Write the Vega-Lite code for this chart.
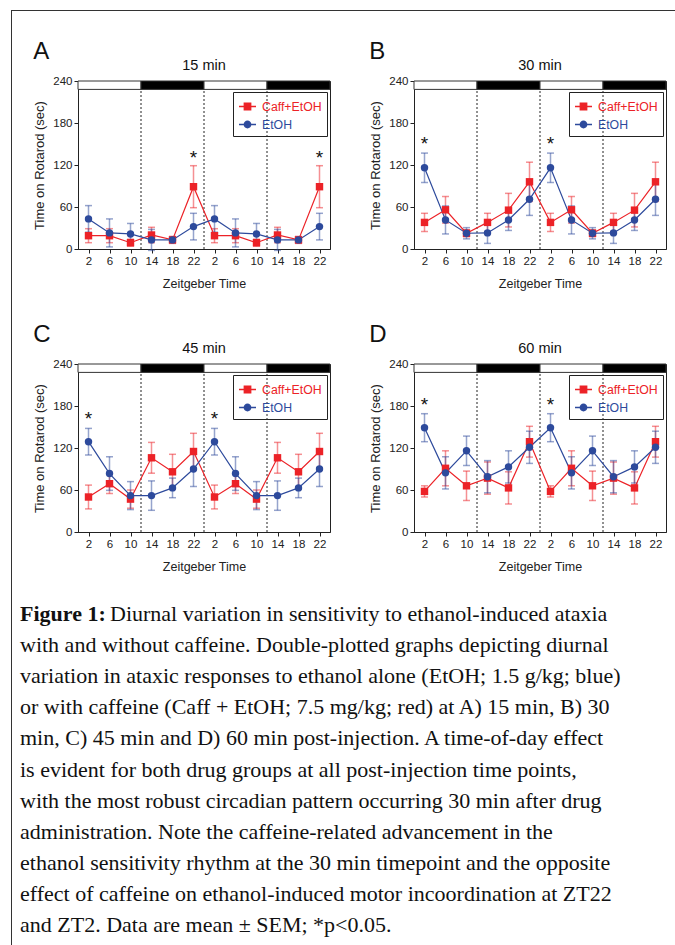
{
"$schema": "https://vega.github.io/schema/vega-lite/v6.json",
"padding": {"left": 11, "top": 10, "right": 0, "bottom": 0},
"background": "white",
"datasets": {
"pts": [
{"panel":"A","group":"Caff+EtOH","hour":2,"mean":19,"sem":10},{"panel":"A","group":"Caff+EtOH","hour":6,"mean":19,"sem":10},{"panel":"A","group":"Caff+EtOH","hour":10,"mean":9,"sem":5},{"panel":"A","group":"Caff+EtOH","hour":14,"mean":20,"sem":11},{"panel":"A","group":"Caff+EtOH","hour":18,"mean":13,"sem":5},{"panel":"A","group":"Caff+EtOH","hour":22,"mean":89,"sem":30},
{"panel":"A","group":"Caff+EtOH","hour":26,"mean":19,"sem":10},{"panel":"A","group":"Caff+EtOH","hour":30,"mean":19,"sem":10},{"panel":"A","group":"Caff+EtOH","hour":34,"mean":9,"sem":5},{"panel":"A","group":"Caff+EtOH","hour":38,"mean":20,"sem":11},{"panel":"A","group":"Caff+EtOH","hour":42,"mean":13,"sem":5},{"panel":"A","group":"Caff+EtOH","hour":46,"mean":89,"sem":30},
{"panel":"A","group":"EtOH","hour":2,"mean":43,"sem":19},{"panel":"A","group":"EtOH","hour":6,"mean":23,"sem":20},{"panel":"A","group":"EtOH","hour":10,"mean":21.5,"sem":15},{"panel":"A","group":"EtOH","hour":14,"mean":13,"sem":15},{"panel":"A","group":"EtOH","hour":18,"mean":13,"sem":4},{"panel":"A","group":"EtOH","hour":22,"mean":32,"sem":19},
{"panel":"A","group":"EtOH","hour":26,"mean":43,"sem":19},{"panel":"A","group":"EtOH","hour":30,"mean":23,"sem":20},{"panel":"A","group":"EtOH","hour":34,"mean":21.5,"sem":15},{"panel":"A","group":"EtOH","hour":38,"mean":13,"sem":15},{"panel":"A","group":"EtOH","hour":42,"mean":13,"sem":4},{"panel":"A","group":"EtOH","hour":46,"mean":32,"sem":19},
{"panel":"B","group":"Caff+EtOH","hour":2,"mean":38,"sem":13},{"panel":"B","group":"Caff+EtOH","hour":6,"mean":56,"sem":19},{"panel":"B","group":"Caff+EtOH","hour":10,"mean":22.5,"sem":5},{"panel":"B","group":"Caff+EtOH","hour":14,"mean":38,"sem":13},{"panel":"B","group":"Caff+EtOH","hour":18,"mean":55.5,"sem":24},{"panel":"B","group":"Caff+EtOH","hour":22,"mean":96,"sem":28},
{"panel":"B","group":"Caff+EtOH","hour":26,"mean":38,"sem":13},{"panel":"B","group":"Caff+EtOH","hour":30,"mean":56,"sem":19},{"panel":"B","group":"Caff+EtOH","hour":34,"mean":22.5,"sem":5},{"panel":"B","group":"Caff+EtOH","hour":38,"mean":38,"sem":13},{"panel":"B","group":"Caff+EtOH","hour":42,"mean":55.5,"sem":24},{"panel":"B","group":"Caff+EtOH","hour":46,"mean":96,"sem":28},
{"panel":"B","group":"EtOH","hour":2,"mean":116,"sem":21},{"panel":"B","group":"EtOH","hour":6,"mean":41.5,"sem":20},{"panel":"B","group":"EtOH","hour":10,"mean":22.5,"sem":8},{"panel":"B","group":"EtOH","hour":14,"mean":23,"sem":15},{"panel":"B","group":"EtOH","hour":18,"mean":41.5,"sem":15},{"panel":"B","group":"EtOH","hour":22,"mean":71,"sem":23},
{"panel":"B","group":"EtOH","hour":26,"mean":116,"sem":21},{"panel":"B","group":"EtOH","hour":30,"mean":41.5,"sem":20},{"panel":"B","group":"EtOH","hour":34,"mean":22.5,"sem":8},{"panel":"B","group":"EtOH","hour":38,"mean":23,"sem":15},{"panel":"B","group":"EtOH","hour":42,"mean":41.5,"sem":15},{"panel":"B","group":"EtOH","hour":46,"mean":71,"sem":23},
{"panel":"C","group":"Caff+EtOH","hour":2,"mean":50,"sem":17},{"panel":"C","group":"Caff+EtOH","hour":6,"mean":69,"sem":14},{"panel":"C","group":"Caff+EtOH","hour":10,"mean":47,"sem":13},{"panel":"C","group":"Caff+EtOH","hour":14,"mean":106,"sem":22},{"panel":"C","group":"Caff+EtOH","hour":18,"mean":86,"sem":25},{"panel":"C","group":"Caff+EtOH","hour":22,"mean":115,"sem":26},
{"panel":"C","group":"Caff+EtOH","hour":26,"mean":50,"sem":17},{"panel":"C","group":"Caff+EtOH","hour":30,"mean":69,"sem":14},{"panel":"C","group":"Caff+EtOH","hour":34,"mean":47,"sem":13},{"panel":"C","group":"Caff+EtOH","hour":38,"mean":106,"sem":22},{"panel":"C","group":"Caff+EtOH","hour":42,"mean":86,"sem":25},{"panel":"C","group":"Caff+EtOH","hour":46,"mean":115,"sem":26},
{"panel":"C","group":"EtOH","hour":2,"mean":129,"sem":19},{"panel":"C","group":"EtOH","hour":6,"mean":83.5,"sem":24},{"panel":"C","group":"EtOH","hour":10,"mean":52,"sem":20},{"panel":"C","group":"EtOH","hour":14,"mean":52,"sem":21},{"panel":"C","group":"EtOH","hour":18,"mean":63,"sem":14},{"panel":"C","group":"EtOH","hour":22,"mean":90,"sem":25},
{"panel":"C","group":"EtOH","hour":26,"mean":129,"sem":19},{"panel":"C","group":"EtOH","hour":30,"mean":83.5,"sem":24},{"panel":"C","group":"EtOH","hour":34,"mean":52,"sem":20},{"panel":"C","group":"EtOH","hour":38,"mean":52,"sem":21},{"panel":"C","group":"EtOH","hour":42,"mean":63,"sem":14},{"panel":"C","group":"EtOH","hour":46,"mean":90,"sem":25},
{"panel":"D","group":"Caff+EtOH","hour":2,"mean":58,"sem":8},{"panel":"D","group":"Caff+EtOH","hour":6,"mean":91,"sem":25},{"panel":"D","group":"Caff+EtOH","hour":10,"mean":66,"sem":21},{"panel":"D","group":"Caff+EtOH","hour":14,"mean":77,"sem":23},{"panel":"D","group":"Caff+EtOH","hour":18,"mean":63,"sem":23},{"panel":"D","group":"Caff+EtOH","hour":22,"mean":129,"sem":22},
{"panel":"D","group":"Caff+EtOH","hour":26,"mean":58,"sem":8},{"panel":"D","group":"Caff+EtOH","hour":30,"mean":91,"sem":25},{"panel":"D","group":"Caff+EtOH","hour":34,"mean":66,"sem":21},{"panel":"D","group":"Caff+EtOH","hour":38,"mean":77,"sem":23},{"panel":"D","group":"Caff+EtOH","hour":42,"mean":63,"sem":23},{"panel":"D","group":"Caff+EtOH","hour":46,"mean":129,"sem":22},
{"panel":"D","group":"EtOH","hour":2,"mean":149,"sem":20},{"panel":"D","group":"EtOH","hour":6,"mean":84.5,"sem":23},{"panel":"D","group":"EtOH","hour":10,"mean":116,"sem":21},{"panel":"D","group":"EtOH","hour":14,"mean":79,"sem":23},{"panel":"D","group":"EtOH","hour":18,"mean":93,"sem":23},{"panel":"D","group":"EtOH","hour":22,"mean":121,"sem":23},
{"panel":"D","group":"EtOH","hour":26,"mean":149,"sem":20},{"panel":"D","group":"EtOH","hour":30,"mean":84.5,"sem":23},{"panel":"D","group":"EtOH","hour":34,"mean":116,"sem":21},{"panel":"D","group":"EtOH","hour":38,"mean":79,"sem":23},{"panel":"D","group":"EtOH","hour":42,"mean":93,"sem":23},{"panel":"D","group":"EtOH","hour":46,"mean":121,"sem":23}
],
"stars": [
{"panel":"A","hour":22,"y":130},{"panel":"A","hour":46,"y":130},
{"panel":"B","hour":2,"y":150},{"panel":"B","hour":26,"y":150},
{"panel":"C","hour":2,"y":161},{"panel":"C","hour":26,"y":161},
{"panel":"D","hour":2,"y":182},{"panel":"D","hour":26,"y":182}
],
"phases": [
{"start":0,"end":12,"phase":"light"},{"start":12,"end":24,"phase":"dark"},{"start":24,"end":36,"phase":"light"},{"start":36,"end":48,"phase":"dark"}
],
"caption": [
{"line":1,"part":"bold","text":"Figure 1:"},
{"line":1,"part":"lead","text":"Diurnal variation in sensitivity to ethanol-induced ataxia"},
{"line":2,"part":"body","text":"with and without caffeine. Double-plotted graphs depicting diurnal"},
{"line":3,"part":"body","text":"variation in ataxic responses to ethanol alone (EtOH; 1.5 g/kg; blue)"},
{"line":4,"part":"body","text":"or with caffeine (Caff + EtOH; 7.5 mg/kg; red) at A) 15 min, B) 30"},
{"line":5,"part":"body","text":"min, C) 45 min and D) 60 min post-injection. A time-of-day effect"},
{"line":6,"part":"body","text":"is evident for both drug groups at all post-injection time points,"},
{"line":7,"part":"body","text":"with the most robust circadian pattern occurring 30 min after drug"},
{"line":8,"part":"body","text":"administration. Note the caffeine-related advancement in the"},
{"line":9,"part":"body","text":"ethanol sensitivity rhythm at the 30 min timepoint and the opposite"},
{"line":10,"part":"body","text":"effect of caffeine on ethanol-induced motor incoordination at ZT22"},
{"line":11,"part":"body","text":"and ZT2. Data are mean ± SEM; *p<0.05."}
]
},
"config": {
"font": "Liberation Sans",
"view": {"stroke": "#222", "strokeWidth": 1},
"axis": {"labelFont": "Liberation Sans", "labelFontSize": 11.5, "labelColor": "#222", "titleFont": "Liberation Sans", "titleFontSize": 12.5, "titleFontWeight": "normal", "titleColor": "#222", "domainColor": "#222", "tickColor": "#222", "tickSize": 4, "grid": false, "labelPadding": 2, "labelOverlap": false},
"axisX": {"titlePadding": 11},
"axisY": {"titlePadding": 6, "titleFontSize": 13},
"legend": {"title": null, "orient": "none", "legendX": 155, "legendY": 11, "strokeColor": "#222", "padding": 5, "rowPadding": 2, "labelOffset": 5, "labelFont": "Liberation Sans", "labelFontSize": 12.3, "symbolSize": 289, "symbolStrokeWidth": 1.3},
"title": {"font": "Liberation Sans", "fontWeight": "normal", "color": "#111"}
},
"resolve": {"scale": {"color": "independent"}},
"spacing": 0,
"vconcat": [
{"width": 664, "height": 1, "view": {"fill": "#333", "stroke": null}, "data": {"values": []}, "mark": "point"},
{"spacing": 8, "resolve": {"scale": {"color": "independent"}}, "hconcat": [
{"width": 1, "height": 934, "view": {"fill": "#333", "stroke": null}, "data": {"values": []}, "mark": "point"},
{"spacing": 28, "resolve": {"scale": {"color": "independent"}}, "vconcat": [
{"width": 1, "height": 1, "view": {"stroke": null}, "data": {"values": []}, "mark": "point"},
{"spacing": 12, "resolve": {"scale": {"color": "independent"}}, "hconcat": [
{"width": 1, "height": 1, "view": {"stroke": null}, "data": {"values": []}, "mark": "point"},
{"spacing": 32, "resolve": {"scale": {"color": "independent"}}, "vconcat": [
{"spacing": 38, "resolve": {"scale": {"color": "independent"}}, "hconcat": [
{"title": {"text": "A", "anchor": "start", "frame": "bounds", "fontSize": 24, "offset": -7},
 "vconcat": [{
 "width": 252, "height": 168,
 "title": {"text": "15 min", "anchor": "middle", "frame": "group", "fontSize": 14.5, "offset": 2},
 "layer": [
  {"data": {"name": "phases"}, "mark": {"type": "rect", "stroke": "#333", "strokeWidth": 1},
   "encoding": {"x": {"field": "start", "type": "quantitative", "title": "Zeitgeber Time", "scale": {"domain": [0, 48], "nice": false, "zero": false}, "axis": {"title": "Zeitgeber Time", "values": [2,6,10,14,18,22,26,30,34,38,42,46], "tickCount": 12, "labelExpr": "datum.value % 24", "labelFlush": false}},
    "x2": {"field": "end"},
    "y": {"datum": 228, "type": "quantitative", "title": "Time on Rotarod (sec)", "scale": {"domain": [0, 240], "nice": false}, "axis": {"title": "Time on Rotarod (sec)", "values": [0,60,120,180,240], "tickCount": 5}},
    "y2": {"datum": 240},
    "fill": {"field": "phase", "type": "nominal", "scale": {"domain": ["light","dark"], "range": ["#ffffff","#000000"]}, "legend": null}}},
  {"data": {"name": "phases"}, "transform": [{"filter": "datum.end < 48"}], "mark": {"type": "rule", "strokeDash": [2, 2], "color": "#222", "strokeWidth": 1},
   "encoding": {"x": {"field": "end", "type": "quantitative", "title": "Zeitgeber Time"}, "y": {"datum": 0, "type": "quantitative", "title": "Time on Rotarod (sec)"}, "y2": {"datum": 228}}},
  {"data": {"name": "pts"}, "transform": [{"filter": "datum.panel == 'A' && datum.group == 'Caff+EtOH'"}], "mark": {"type": "errorbar", "ticks": true, "color": "#ec2227", "opacity": 0.5, "thickness": 1.5, "size": 7},
   "encoding": {"x": {"field": "hour", "type": "quantitative", "title": "Zeitgeber Time"}, "y": {"field": "mean", "type": "quantitative", "title": "Time on Rotarod (sec)"}, "yError": {"field": "sem"}}},
  {"data": {"name": "pts"}, "transform": [{"filter": "datum.panel == 'A' && datum.group == 'EtOH'"}], "mark": {"type": "errorbar", "ticks": true, "color": "#2d4a9c", "opacity": 0.5, "thickness": 1.5, "size": 7},
   "encoding": {"x": {"field": "hour", "type": "quantitative", "title": "Zeitgeber Time"}, "y": {"field": "mean", "type": "quantitative", "title": "Time on Rotarod (sec)"}, "yError": {"field": "sem"}}},
  {"data": {"name": "pts"}, "transform": [{"filter": "datum.panel == 'A'"}], "mark": {"type": "line", "strokeWidth": 1.2},
   "encoding": {"x": {"field": "hour", "type": "quantitative", "title": "Zeitgeber Time"}, "y": {"field": "mean", "type": "quantitative", "title": "Time on Rotarod (sec)"},
    "color": {"field": "group", "type": "nominal", "scale": {"domain": ["Caff+EtOH","EtOH"], "range": ["#ec2227","#2d4a9c"]},
     "legend": {"symbolType": {"expr": "datum.value === 'EtOH' ? 'M-1,0H1M0.38,0A0.38,0.38,0,1,1,-0.38,0A0.38,0.38,0,1,1,0.38,0Z' : 'M-1,0H1M-0.38,-0.38H0.38V0.38H-0.38Z'"}, "symbolFillColor": {"expr": "datum.value === 'EtOH' ? '#2d4a9c' : '#ec2227'"}, "labelColor": {"expr": "datum.value === 'EtOH' ? '#2d4a9c' : '#ec2227'"}}}}},
  {"data": {"name": "pts"}, "transform": [{"filter": "datum.panel == 'A' && datum.group == 'Caff+EtOH'"}], "mark": {"type": "point", "shape": "square", "filled": true, "color": "#ec2227", "opacity": 1, "size": 55},
   "encoding": {"x": {"field": "hour", "type": "quantitative", "title": "Zeitgeber Time"}, "y": {"field": "mean", "type": "quantitative", "title": "Time on Rotarod (sec)"}}},
  {"data": {"name": "pts"}, "transform": [{"filter": "datum.panel == 'A' && datum.group == 'EtOH'"}], "mark": {"type": "point", "shape": "circle", "filled": true, "color": "#2d4a9c", "opacity": 1, "size": 55},
   "encoding": {"x": {"field": "hour", "type": "quantitative", "title": "Zeitgeber Time"}, "y": {"field": "mean", "type": "quantitative", "title": "Time on Rotarod (sec)"}}},
  {"data": {"name": "stars"}, "transform": [{"filter": "datum.panel == 'A'"}], "mark": {"type": "text", "text": "*", "fontSize": 19, "color": "#111", "baseline": "middle"},
   "encoding": {"x": {"field": "hour", "type": "quantitative", "title": "Zeitgeber Time"}, "y": {"field": "y", "type": "quantitative", "title": "Time on Rotarod (sec)"}}}
 ]
 }]},
{"title": {"text": "B", "anchor": "start", "frame": "bounds", "fontSize": 24, "offset": -7},
 "vconcat": [{
 "width": 252, "height": 168,
 "title": {"text": "30 min", "anchor": "middle", "frame": "group", "fontSize": 14.5, "offset": 2},
 "layer": [
  {"data": {"name": "phases"}, "mark": {"type": "rect", "stroke": "#333", "strokeWidth": 1},
   "encoding": {"x": {"field": "start", "type": "quantitative", "title": "Zeitgeber Time", "scale": {"domain": [0, 48], "nice": false, "zero": false}, "axis": {"title": "Zeitgeber Time", "values": [2,6,10,14,18,22,26,30,34,38,42,46], "tickCount": 12, "labelExpr": "datum.value % 24", "labelFlush": false}},
    "x2": {"field": "end"},
    "y": {"datum": 228, "type": "quantitative", "title": "Time on Rotarod (sec)", "scale": {"domain": [0, 240], "nice": false}, "axis": {"title": "Time on Rotarod (sec)", "values": [0,60,120,180,240], "tickCount": 5}},
    "y2": {"datum": 240},
    "fill": {"field": "phase", "type": "nominal", "scale": {"domain": ["light","dark"], "range": ["#ffffff","#000000"]}, "legend": null}}},
  {"data": {"name": "phases"}, "transform": [{"filter": "datum.end < 48"}], "mark": {"type": "rule", "strokeDash": [2, 2], "color": "#222", "strokeWidth": 1},
   "encoding": {"x": {"field": "end", "type": "quantitative", "title": "Zeitgeber Time"}, "y": {"datum": 0, "type": "quantitative", "title": "Time on Rotarod (sec)"}, "y2": {"datum": 228}}},
  {"data": {"name": "pts"}, "transform": [{"filter": "datum.panel == 'B' && datum.group == 'Caff+EtOH'"}], "mark": {"type": "errorbar", "ticks": true, "color": "#ec2227", "opacity": 0.5, "thickness": 1.5, "size": 7},
   "encoding": {"x": {"field": "hour", "type": "quantitative", "title": "Zeitgeber Time"}, "y": {"field": "mean", "type": "quantitative", "title": "Time on Rotarod (sec)"}, "yError": {"field": "sem"}}},
  {"data": {"name": "pts"}, "transform": [{"filter": "datum.panel == 'B' && datum.group == 'EtOH'"}], "mark": {"type": "errorbar", "ticks": true, "color": "#2d4a9c", "opacity": 0.5, "thickness": 1.5, "size": 7},
   "encoding": {"x": {"field": "hour", "type": "quantitative", "title": "Zeitgeber Time"}, "y": {"field": "mean", "type": "quantitative", "title": "Time on Rotarod (sec)"}, "yError": {"field": "sem"}}},
  {"data": {"name": "pts"}, "transform": [{"filter": "datum.panel == 'B'"}], "mark": {"type": "line", "strokeWidth": 1.2},
   "encoding": {"x": {"field": "hour", "type": "quantitative", "title": "Zeitgeber Time"}, "y": {"field": "mean", "type": "quantitative", "title": "Time on Rotarod (sec)"},
    "color": {"field": "group", "type": "nominal", "scale": {"domain": ["Caff+EtOH","EtOH"], "range": ["#ec2227","#2d4a9c"]},
     "legend": {"symbolType": {"expr": "datum.value === 'EtOH' ? 'M-1,0H1M0.38,0A0.38,0.38,0,1,1,-0.38,0A0.38,0.38,0,1,1,0.38,0Z' : 'M-1,0H1M-0.38,-0.38H0.38V0.38H-0.38Z'"}, "symbolFillColor": {"expr": "datum.value === 'EtOH' ? '#2d4a9c' : '#ec2227'"}, "labelColor": {"expr": "datum.value === 'EtOH' ? '#2d4a9c' : '#ec2227'"}}}}},
  {"data": {"name": "pts"}, "transform": [{"filter": "datum.panel == 'B' && datum.group == 'Caff+EtOH'"}], "mark": {"type": "point", "shape": "square", "filled": true, "color": "#ec2227", "opacity": 1, "size": 55},
   "encoding": {"x": {"field": "hour", "type": "quantitative", "title": "Zeitgeber Time"}, "y": {"field": "mean", "type": "quantitative", "title": "Time on Rotarod (sec)"}}},
  {"data": {"name": "pts"}, "transform": [{"filter": "datum.panel == 'B' && datum.group == 'EtOH'"}], "mark": {"type": "point", "shape": "circle", "filled": true, "color": "#2d4a9c", "opacity": 1, "size": 55},
   "encoding": {"x": {"field": "hour", "type": "quantitative", "title": "Zeitgeber Time"}, "y": {"field": "mean", "type": "quantitative", "title": "Time on Rotarod (sec)"}}},
  {"data": {"name": "stars"}, "transform": [{"filter": "datum.panel == 'B'"}], "mark": {"type": "text", "text": "*", "fontSize": 19, "color": "#111", "baseline": "middle"},
   "encoding": {"x": {"field": "hour", "type": "quantitative", "title": "Zeitgeber Time"}, "y": {"field": "y", "type": "quantitative", "title": "Time on Rotarod (sec)"}}}
 ]
 }]}
]},
{"spacing": 38, "resolve": {"scale": {"color": "independent"}}, "hconcat": [
{"title": {"text": "C", "anchor": "start", "frame": "bounds", "fontSize": 24, "offset": -7},
 "vconcat": [{
 "width": 252, "height": 168,
 "title": {"text": "45 min", "anchor": "middle", "frame": "group", "fontSize": 14.5, "offset": 2},
 "layer": [
  {"data": {"name": "phases"}, "mark": {"type": "rect", "stroke": "#333", "strokeWidth": 1},
   "encoding": {"x": {"field": "start", "type": "quantitative", "title": "Zeitgeber Time", "scale": {"domain": [0, 48], "nice": false, "zero": false}, "axis": {"title": "Zeitgeber Time", "values": [2,6,10,14,18,22,26,30,34,38,42,46], "tickCount": 12, "labelExpr": "datum.value % 24", "labelFlush": false}},
    "x2": {"field": "end"},
    "y": {"datum": 228, "type": "quantitative", "title": "Time on Rotarod (sec)", "scale": {"domain": [0, 240], "nice": false}, "axis": {"title": "Time on Rotarod (sec)", "values": [0,60,120,180,240], "tickCount": 5}},
    "y2": {"datum": 240},
    "fill": {"field": "phase", "type": "nominal", "scale": {"domain": ["light","dark"], "range": ["#ffffff","#000000"]}, "legend": null}}},
  {"data": {"name": "phases"}, "transform": [{"filter": "datum.end < 48"}], "mark": {"type": "rule", "strokeDash": [2, 2], "color": "#222", "strokeWidth": 1},
   "encoding": {"x": {"field": "end", "type": "quantitative", "title": "Zeitgeber Time"}, "y": {"datum": 0, "type": "quantitative", "title": "Time on Rotarod (sec)"}, "y2": {"datum": 228}}},
  {"data": {"name": "pts"}, "transform": [{"filter": "datum.panel == 'C' && datum.group == 'Caff+EtOH'"}], "mark": {"type": "errorbar", "ticks": true, "color": "#ec2227", "opacity": 0.5, "thickness": 1.5, "size": 7},
   "encoding": {"x": {"field": "hour", "type": "quantitative", "title": "Zeitgeber Time"}, "y": {"field": "mean", "type": "quantitative", "title": "Time on Rotarod (sec)"}, "yError": {"field": "sem"}}},
  {"data": {"name": "pts"}, "transform": [{"filter": "datum.panel == 'C' && datum.group == 'EtOH'"}], "mark": {"type": "errorbar", "ticks": true, "color": "#2d4a9c", "opacity": 0.5, "thickness": 1.5, "size": 7},
   "encoding": {"x": {"field": "hour", "type": "quantitative", "title": "Zeitgeber Time"}, "y": {"field": "mean", "type": "quantitative", "title": "Time on Rotarod (sec)"}, "yError": {"field": "sem"}}},
  {"data": {"name": "pts"}, "transform": [{"filter": "datum.panel == 'C'"}], "mark": {"type": "line", "strokeWidth": 1.2},
   "encoding": {"x": {"field": "hour", "type": "quantitative", "title": "Zeitgeber Time"}, "y": {"field": "mean", "type": "quantitative", "title": "Time on Rotarod (sec)"},
    "color": {"field": "group", "type": "nominal", "scale": {"domain": ["Caff+EtOH","EtOH"], "range": ["#ec2227","#2d4a9c"]},
     "legend": {"symbolType": {"expr": "datum.value === 'EtOH' ? 'M-1,0H1M0.38,0A0.38,0.38,0,1,1,-0.38,0A0.38,0.38,0,1,1,0.38,0Z' : 'M-1,0H1M-0.38,-0.38H0.38V0.38H-0.38Z'"}, "symbolFillColor": {"expr": "datum.value === 'EtOH' ? '#2d4a9c' : '#ec2227'"}, "labelColor": {"expr": "datum.value === 'EtOH' ? '#2d4a9c' : '#ec2227'"}}}}},
  {"data": {"name": "pts"}, "transform": [{"filter": "datum.panel == 'C' && datum.group == 'Caff+EtOH'"}], "mark": {"type": "point", "shape": "square", "filled": true, "color": "#ec2227", "opacity": 1, "size": 55},
   "encoding": {"x": {"field": "hour", "type": "quantitative", "title": "Zeitgeber Time"}, "y": {"field": "mean", "type": "quantitative", "title": "Time on Rotarod (sec)"}}},
  {"data": {"name": "pts"}, "transform": [{"filter": "datum.panel == 'C' && datum.group == 'EtOH'"}], "mark": {"type": "point", "shape": "circle", "filled": true, "color": "#2d4a9c", "opacity": 1, "size": 55},
   "encoding": {"x": {"field": "hour", "type": "quantitative", "title": "Zeitgeber Time"}, "y": {"field": "mean", "type": "quantitative", "title": "Time on Rotarod (sec)"}}},
  {"data": {"name": "stars"}, "transform": [{"filter": "datum.panel == 'C'"}], "mark": {"type": "text", "text": "*", "fontSize": 19, "color": "#111", "baseline": "middle"},
   "encoding": {"x": {"field": "hour", "type": "quantitative", "title": "Zeitgeber Time"}, "y": {"field": "y", "type": "quantitative", "title": "Time on Rotarod (sec)"}}}
 ]
 }]},
{"title": {"text": "D", "anchor": "start", "frame": "bounds", "fontSize": 24, "offset": -7},
 "vconcat": [{
 "width": 252, "height": 168,
 "title": {"text": "60 min", "anchor": "middle", "frame": "group", "fontSize": 14.5, "offset": 2},
 "layer": [
  {"data": {"name": "phases"}, "mark": {"type": "rect", "stroke": "#333", "strokeWidth": 1},
   "encoding": {"x": {"field": "start", "type": "quantitative", "title": "Zeitgeber Time", "scale": {"domain": [0, 48], "nice": false, "zero": false}, "axis": {"title": "Zeitgeber Time", "values": [2,6,10,14,18,22,26,30,34,38,42,46], "tickCount": 12, "labelExpr": "datum.value % 24", "labelFlush": false}},
    "x2": {"field": "end"},
    "y": {"datum": 228, "type": "quantitative", "title": "Time on Rotarod (sec)", "scale": {"domain": [0, 240], "nice": false}, "axis": {"title": "Time on Rotarod (sec)", "values": [0,60,120,180,240], "tickCount": 5}},
    "y2": {"datum": 240},
    "fill": {"field": "phase", "type": "nominal", "scale": {"domain": ["light","dark"], "range": ["#ffffff","#000000"]}, "legend": null}}},
  {"data": {"name": "phases"}, "transform": [{"filter": "datum.end < 48"}], "mark": {"type": "rule", "strokeDash": [2, 2], "color": "#222", "strokeWidth": 1},
   "encoding": {"x": {"field": "end", "type": "quantitative", "title": "Zeitgeber Time"}, "y": {"datum": 0, "type": "quantitative", "title": "Time on Rotarod (sec)"}, "y2": {"datum": 228}}},
  {"data": {"name": "pts"}, "transform": [{"filter": "datum.panel == 'D' && datum.group == 'Caff+EtOH'"}], "mark": {"type": "errorbar", "ticks": true, "color": "#ec2227", "opacity": 0.5, "thickness": 1.5, "size": 7},
   "encoding": {"x": {"field": "hour", "type": "quantitative", "title": "Zeitgeber Time"}, "y": {"field": "mean", "type": "quantitative", "title": "Time on Rotarod (sec)"}, "yError": {"field": "sem"}}},
  {"data": {"name": "pts"}, "transform": [{"filter": "datum.panel == 'D' && datum.group == 'EtOH'"}], "mark": {"type": "errorbar", "ticks": true, "color": "#2d4a9c", "opacity": 0.5, "thickness": 1.5, "size": 7},
   "encoding": {"x": {"field": "hour", "type": "quantitative", "title": "Zeitgeber Time"}, "y": {"field": "mean", "type": "quantitative", "title": "Time on Rotarod (sec)"}, "yError": {"field": "sem"}}},
  {"data": {"name": "pts"}, "transform": [{"filter": "datum.panel == 'D'"}], "mark": {"type": "line", "strokeWidth": 1.2},
   "encoding": {"x": {"field": "hour", "type": "quantitative", "title": "Zeitgeber Time"}, "y": {"field": "mean", "type": "quantitative", "title": "Time on Rotarod (sec)"},
    "color": {"field": "group", "type": "nominal", "scale": {"domain": ["Caff+EtOH","EtOH"], "range": ["#ec2227","#2d4a9c"]},
     "legend": {"symbolType": {"expr": "datum.value === 'EtOH' ? 'M-1,0H1M0.38,0A0.38,0.38,0,1,1,-0.38,0A0.38,0.38,0,1,1,0.38,0Z' : 'M-1,0H1M-0.38,-0.38H0.38V0.38H-0.38Z'"}, "symbolFillColor": {"expr": "datum.value === 'EtOH' ? '#2d4a9c' : '#ec2227'"}, "labelColor": {"expr": "datum.value === 'EtOH' ? '#2d4a9c' : '#ec2227'"}}}}},
  {"data": {"name": "pts"}, "transform": [{"filter": "datum.panel == 'D' && datum.group == 'Caff+EtOH'"}], "mark": {"type": "point", "shape": "square", "filled": true, "color": "#ec2227", "opacity": 1, "size": 55},
   "encoding": {"x": {"field": "hour", "type": "quantitative", "title": "Zeitgeber Time"}, "y": {"field": "mean", "type": "quantitative", "title": "Time on Rotarod (sec)"}}},
  {"data": {"name": "pts"}, "transform": [{"filter": "datum.panel == 'D' && datum.group == 'EtOH'"}], "mark": {"type": "point", "shape": "circle", "filled": true, "color": "#2d4a9c", "opacity": 1, "size": 55},
   "encoding": {"x": {"field": "hour", "type": "quantitative", "title": "Zeitgeber Time"}, "y": {"field": "mean", "type": "quantitative", "title": "Time on Rotarod (sec)"}}},
  {"data": {"name": "stars"}, "transform": [{"filter": "datum.panel == 'D'"}], "mark": {"type": "text", "text": "*", "fontSize": 19, "color": "#111", "baseline": "middle"},
   "encoding": {"x": {"field": "hour", "type": "quantitative", "title": "Zeitgeber Time"}, "y": {"field": "y", "type": "quantitative", "title": "Time on Rotarod (sec)"}}}
 ]
 }]}
]}
]}
]},
{"width": 645, "height": 343, "view": {"stroke": null}, "data": {"name": "caption"},
 "encoding": {"x": {"datum": 0, "type": "quantitative", "scale": {"domain": [0, 1]}, "axis": null}, "y": {"field": "line", "type": "quantitative", "scale": {"domain": [1.013, 12.013], "reverse": true, "nice": false, "zero": false}, "axis": null}, "text": {"field": "text"}},
 "layer": [
  {"transform": [{"filter": "datum.part == 'bold'"}], "mark": {"type": "text", "align": "left", "baseline": "middle", "font": "Liberation Serif", "fontSize": 22, "fontWeight": "bold", "color": "#111"}},
  {"transform": [{"filter": "datum.part == 'lead'"}], "mark": {"type": "text", "align": "left", "baseline": "middle", "font": "Liberation Serif", "fontSize": 22, "color": "#111", "dx": 90}},
  {"transform": [{"filter": "datum.part == 'body'"}], "mark": {"type": "text", "align": "left", "baseline": "middle", "font": "Liberation Serif", "fontSize": 22, "color": "#111"}}
 ]}
]}
]}
]
}
